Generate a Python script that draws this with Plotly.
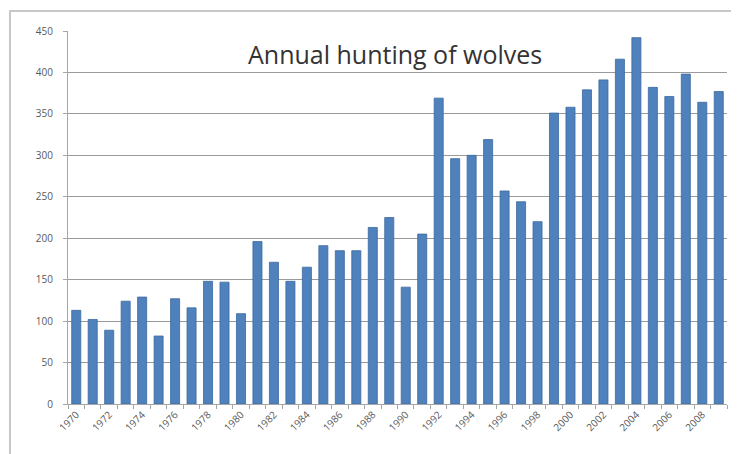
import plotly.graph_objects as go

years = list(range(1970, 2010))
wolves = [113, 102, 89, 124, 129, 82, 127, 116, 148, 147,
          109, 196, 171, 148, 165, 191, 185, 185, 213, 225,
          141, 205, 369, 296, 300, 319, 257, 244, 220, 351,
          358, 379, 391, 416, 442, 382, 371, 398, 364, 377]
label_years = list(range(1970, 2010, 2))
y_ticks = list(range(0, 451, 50))

OFF = 8  # page offset of the figure inside the browser window
W, H = 739 - OFF, 454 - OFF
L, R, T, B = 68 - OFF, 20 - OFF, 31 - OFF, 50

fig = go.Figure()
fig.add_trace(go.Bar(
    x=years, y=wolves,
    marker=dict(color="#4F81BD", line=dict(color="#3C6A9E", width=0.8)),
    width=0.55,
))

fig.update_layout(
    width=W, height=H,
    margin=dict(l=L, r=R, t=T, b=B, autoexpand=False),
    paper_bgcolor="white", plot_bgcolor="white",
    showlegend=False,
    font=dict(family="Open Sans, DejaVu Sans, sans-serif", color="#595959"),
)
fig.update_xaxes(
    range=[1969.5, 2009.5],
    tickmode="array", tickvals=label_years, ticktext=[str(v) for v in label_years],
    tickangle=-45, tickfont=dict(size=10, color="#595959"),
    ticks="", showgrid=False, automargin=False,
    showline=True, linecolor="#A6A6A6", linewidth=1,
    minor=dict(ticks="outside", tick0=1969.5, dtick=1, ticklen=4, tickcolor="#A6A6A6", showgrid=False),
)
fig.update_yaxes(
    range=[0, 450],
    tickmode="array", tickvals=y_ticks,
    tickfont=dict(size=10, color="#595959"),
    ticks="outside", ticklen=4, tickcolor="#A6A6A6", ticklabelstandoff=8,
    showgrid=True, gridcolor="#9A9A9A", gridwidth=1, automargin=False,
    showline=True, linecolor="#A6A6A6", linewidth=1,
    zeroline=False,
)

pw = W - L - R
ph = H - T - B
def px(xp):
    return (xp - OFF - L) / pw
def py(yp):
    return (H - B - (yp - OFF)) / ph

fig.add_annotation(
    text="Annual hunting of wolves", xref="paper", yref="paper",
    x=px(395), y=py(54), xanchor="center", yanchor="middle", showarrow=False,
    font=dict(size=25, color="#333333", family="Open Sans, DejaVu Sans, sans-serif"),
)
fig.add_shape(
    type="path", xref="paper", yref="paper",
    path=f"M {px(10)} {py(470)} L {px(10)} {py(11)} L {px(760)} {py(11)}",
    line=dict(color="#C8C8C8", width=2),
)

fig.write_html("out.html")
